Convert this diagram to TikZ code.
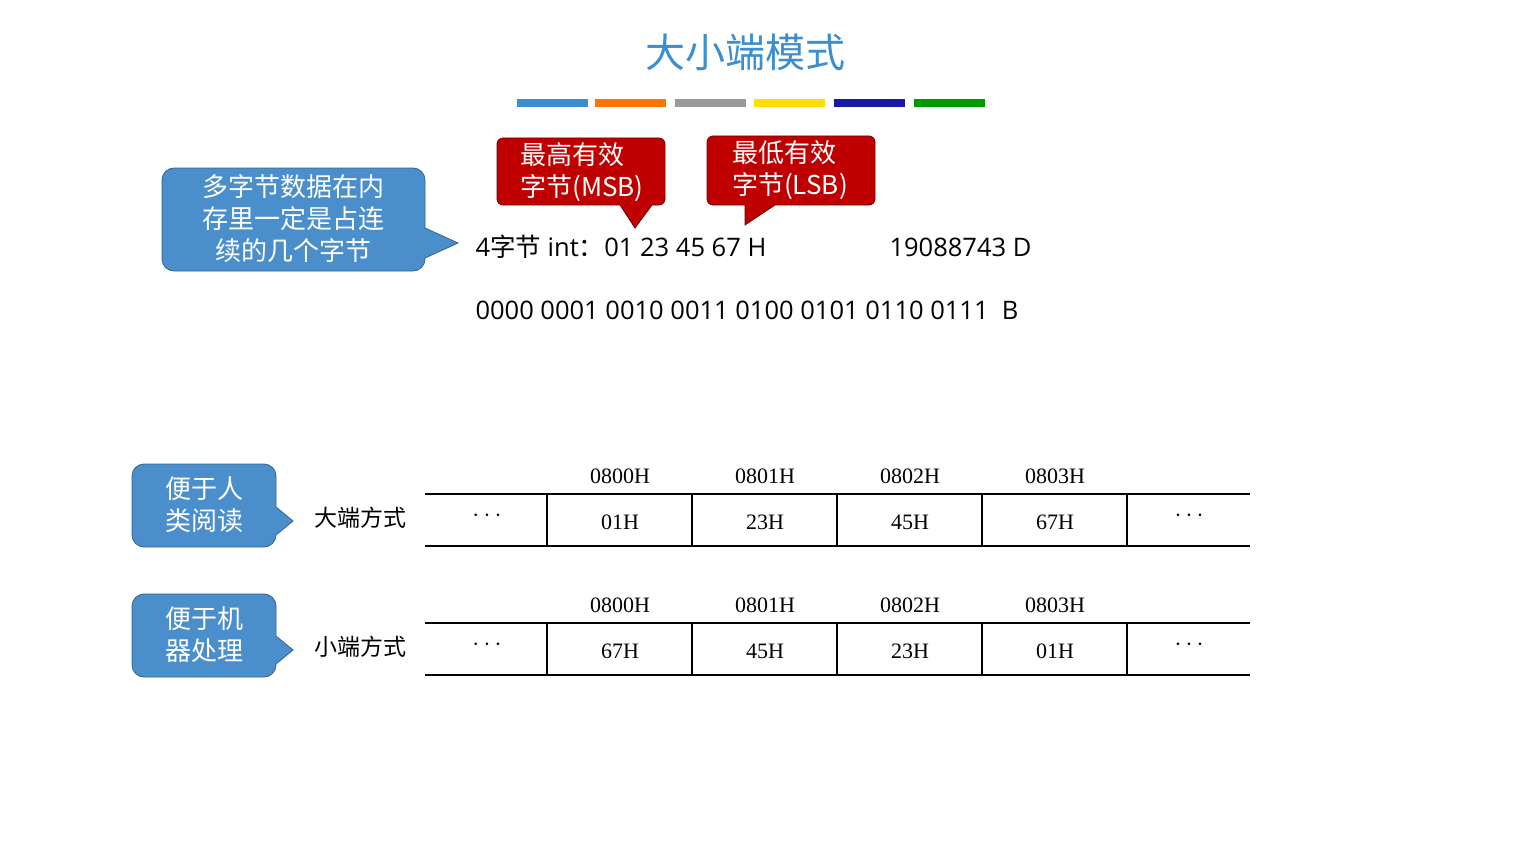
\documentclass[tikz,border=0pt]{standalone}
\usepackage{fontspec}
\setmainfont{Liberation Serif}
\setsansfont{Open Sans}
\newfontfamily\cjk{Noto Sans CJK SC}
\definecolor{tblue}{HTML}{3B8ED0}
\definecolor{cblue}{HTML}{4A8FCB}
\definecolor{cred}{HTML}{C00000}
\begin{document}
\begin{tikzpicture}[x=1pt,y=-1pt,
  bluecall/.style={fill=cblue,draw=cblue!70!black,line width=0.8pt},
  redcall/.style={fill=cred,draw=cred!60!black,line width=0.8pt},
  ctext/.style={text=white,font=\cjk\fontsize{26}{32}\selectfont,align=center},
  addr/.style={font=\fontsize{22}{24}\selectfont},
  cell/.style={font=\fontsize{22}{24}\selectfont},
  sline/.style={anchor=west,font=\sffamily\fontsize{25.5}{28}\selectfont},
  tl/.style={line width=1.6pt}]
\useasboundingbox[fill=white] (0,0) rectangle (1518,856);
\node[text=tblue,font=\cjk\fontsize{40}{44}\selectfont] (title) at (745,52) {大小端模式};
\foreach \x/\c in {517/tblue,595/orange!90!red,675/gray!80,754/yellow!80!orange,834/blue!60!black!90,914/green!60!black} {
  \fill[\c] (\x,99) rectangle ++(71,8);}
% red callouts
\draw[redcall] (620,205) [rounded corners=6pt] -- (497,205) -- (497,138) -- (665,138) -- (665,205) [sharp corners] -- (652,205) -- (635,228) -- cycle;
\node[ctext,align=left] (msb) at (582,172) {最高有效\\字节(MSB)};
\draw[redcall] (745,205) [rounded corners=6pt] -- (707,205) -- (707,136) -- (875,136) -- (875,205) [sharp corners] -- (775,205) -- (745,225) -- cycle;
\node[ctext,align=left] (lsb) at (790,170) {最低有效\\字节(LSB)};
% left blue callout
\draw[bluecall] (425,228) [rounded corners=12pt] -- (425,168) -- (162,168) -- (162,271) -- (425,271) [sharp corners] -- (425,258) -- (458,243) -- cycle;
\node[ctext] (c1) at (293,219) {多字节数据在内\\存里一定是占连\\续的几个字节};
\node[sline] (int) at (472,247) {4{\cjk 字节} int{\cjk ：}01 23 45 67 H};
\node[sline] (dec) at (886,247) {19088743 D};
\node[sline] (bin) at (472,310) {0000 0001 0010 0011 0100 0101 0110 0111\ \ B};
% tables
\foreach \yt/\lab/\nm/\a/\b/\c/\d in {494/大端方式/big/01H/23H/45H/67H, 623/小端方式/little/67H/45H/23H/01H} {
  \draw[tl] (425,\yt) -- (1250,\yt);
  \draw[tl] (425,\yt+52) -- (1250,\yt+52);
  \foreach \x in {547,692,837,982,1127} \draw[tl] (\x,\yt) -- (\x,\yt+52);
  \node[font=\fontsize{26}{28}\selectfont] at (487,\yt+22) {$\cdots$};
  \node[font=\fontsize{26}{28}\selectfont] at (1189,\yt+22) {$\cdots$};
  \node[cell] at (620,\yt+28) {\a};
  \node[cell] at (765,\yt+28) {\b};
  \node[cell] at (910,\yt+28) {\c};
  \node[cell] at (1055,\yt+28) {\d};
  \foreach \x/\t in {620/0800H,765/0801H,910/0802H,1055/0803H} \node[addr] at (\x,\yt-18) {\t};
  \node[font=\cjk\fontsize{23}{26}\selectfont] (\nm) at (360,\yt+24) {\lab};
}
\draw[bluecall] (276,507) [rounded corners=12pt] -- (276,464) -- (132,464) -- (132,547) -- (276,547) [sharp corners] -- (276,535) -- (293,521) -- cycle;
\node[ctext] (h) at (204,505) {便于人\\类阅读};
\draw[bluecall] (276,636) [rounded corners=12pt] -- (276,594) -- (132,594) -- (132,677) -- (276,677) [sharp corners] -- (276,664) -- (293,650) -- cycle;
\node[ctext] (m) at (204,635) {便于机\\器处理};
\end{tikzpicture}
\end{document}
